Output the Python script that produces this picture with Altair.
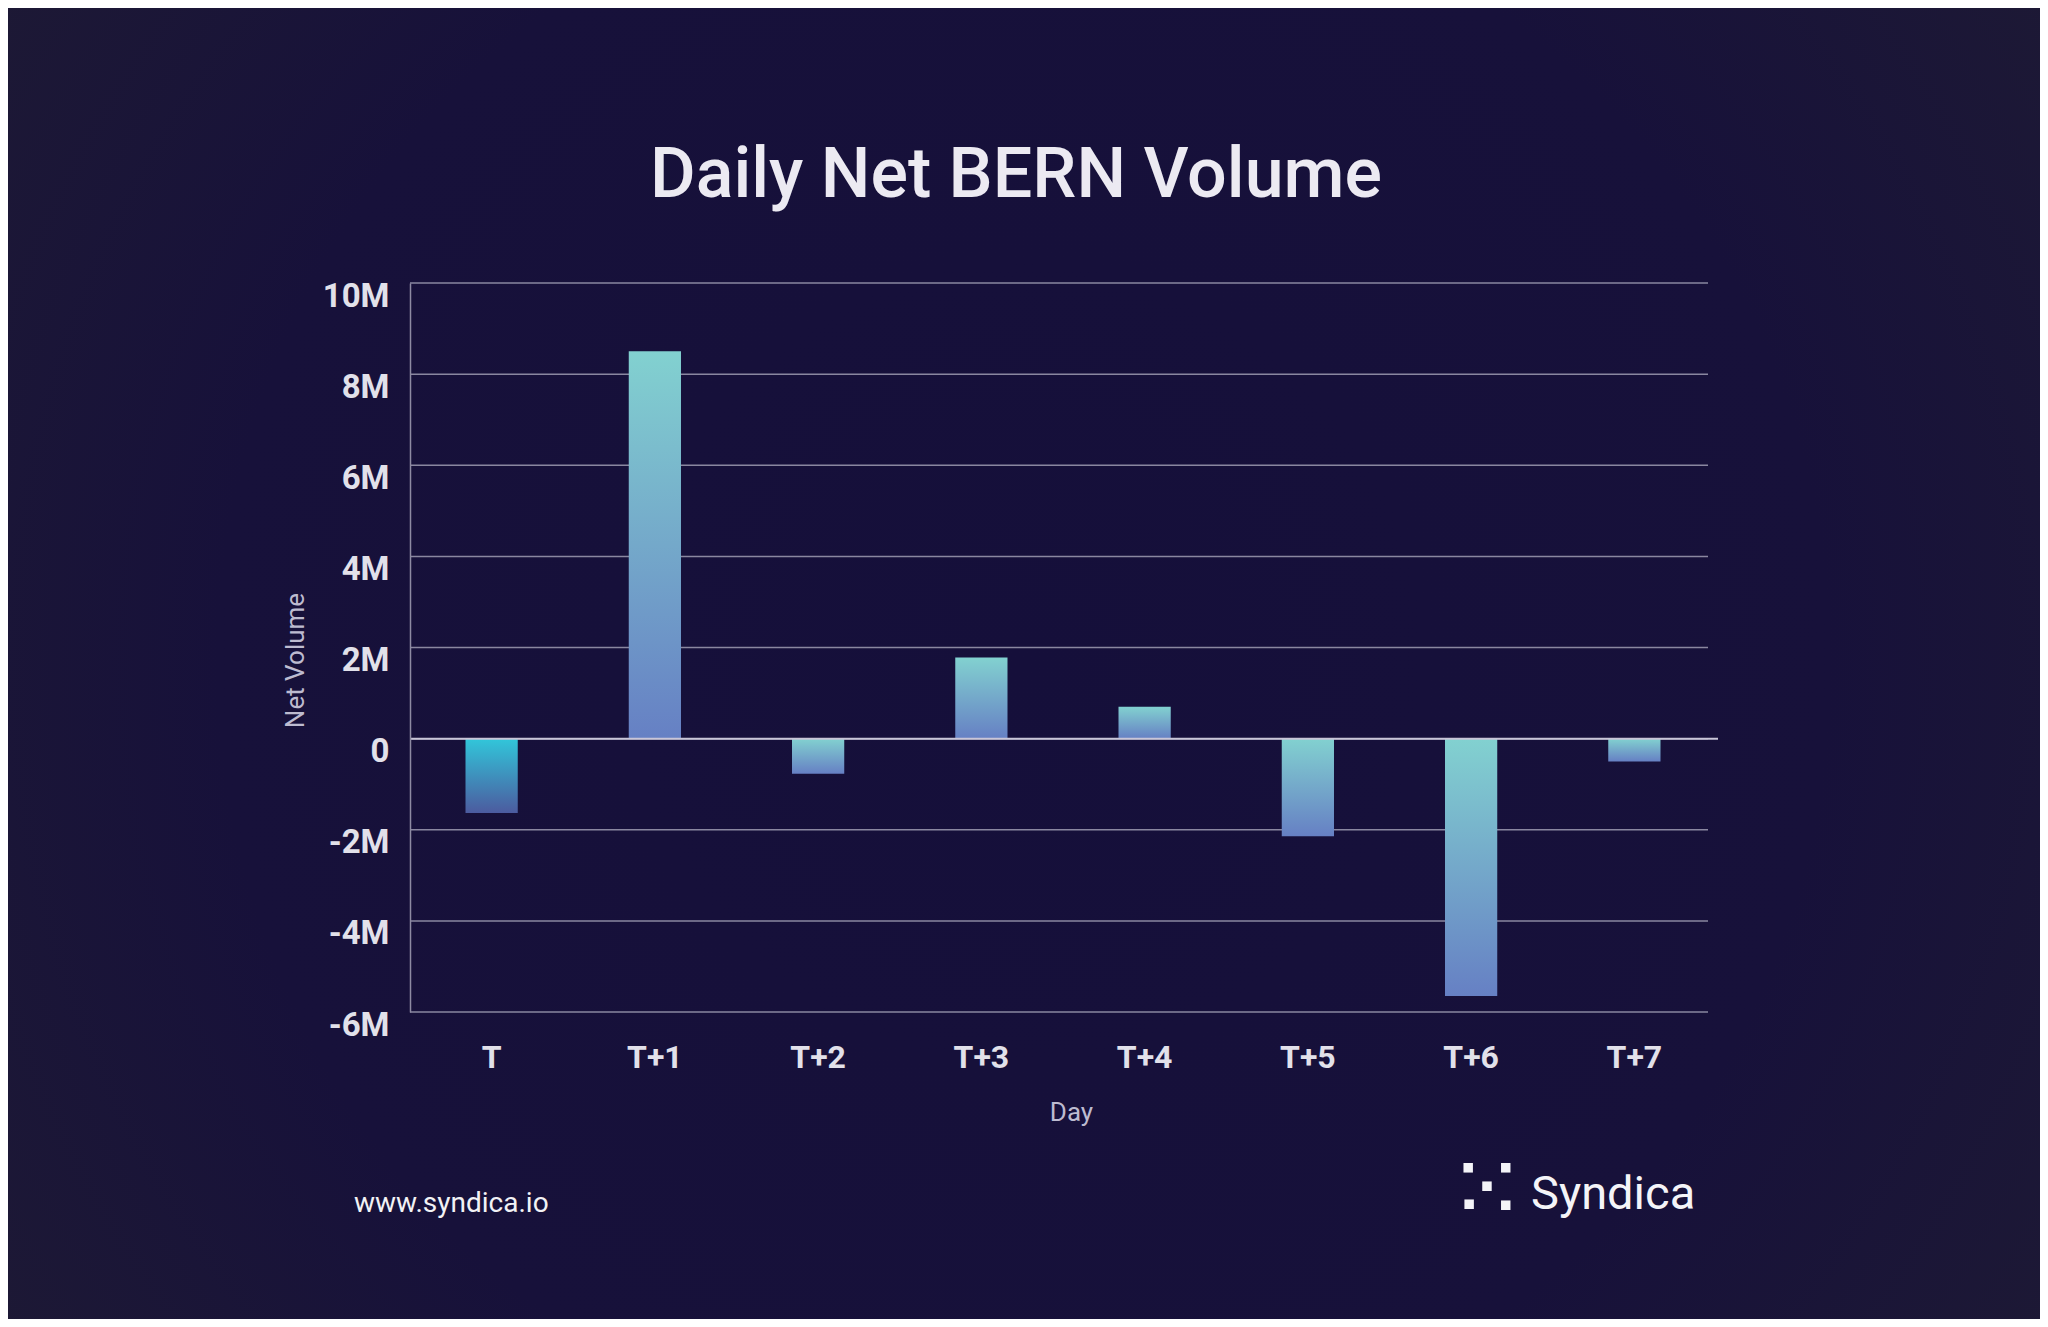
import altair as alt
import pandas as pd

# ---- data ----
days = ["T", "T+1", "T+2", "T+3", "T+4", "T+5", "T+6", "T+7"]
net_volume = [-1630000, 8500000, -770000, 1780000, 700000, -2140000, -5650000, -500000]
y_ticks = [-6000000, -4000000, -2000000, 0, 2000000, 4000000, 6000000, 8000000, 10000000]

title_text = "Daily Net BERN Volume"
site_text = "www.syndica.io"
brand_text = "Syndica"

df = pd.DataFrame({"Day": days, "Net Volume": net_volume})
grid_df = pd.DataFrame({"Net Volume": y_ticks})

FONT = "Roboto"
W, H = 1306, 729
PAD = {"left": 402, "top": 275, "right": 324, "bottom": 307}

x_enc = alt.X(
    "Day:N",
    sort=days,
    scale=alt.Scale(paddingInner=0.68, paddingOuter=0.34),
    axis=alt.Axis(
        title="Day",
        labelAngle=0,
        labelFontSize=32,
        labelFontWeight="bold",
        labelColor="#E2E1EA",
        labelFont=FONT,
        labelPadding=30,
        domain=False,
        ticks=False,
        grid=False,
        zindex=2,
        titleFont=FONT,
        titleFontSize=26,
        titleFontWeight="normal",
        titleColor="#BDBBD0",
        titleX=661,
        titleY=100,
        titleBaseline="middle",
        titleAlign="center",
    ),
)

y_scale = alt.Scale(domain=[-6000000, 10000000], nice=False)

y_enc = alt.Y(
    "Net Volume:Q",
    scale=y_scale,
    axis=alt.Axis(
        title="Net Volume",
        values=y_ticks,
        labelExpr="datum.value == 0 ? '0' : (datum.value < 0 ? '-' : '') + (abs(datum.value) / 1000000) + 'M'",
        labelFontSize=33,
        labelFontWeight="bold",
        labelColor="#E2E1EA",
        labelFont=FONT,
        labelPadding=21,
        labelBaseline="top",
        labelOffset=-3,
        ticks=False,
        domain=True,
        domainColor="#8E8BA3",
        domainWidth=1.5,
        grid=False,
        zindex=2,
        titleFont=FONT,
        titleFontSize=26,
        titleFontWeight="normal",
        titleColor="#BDBBD0",
        titleAngle=270,
        titleX=-115,
        titleY=377,
        titleBaseline="middle",
        titleAlign="center",
    ),
)

bar_grad = alt.LinearGradient(
    gradient="linear",
    stops=[alt.GradientStop(color="#82D1D0", offset=0), alt.GradientStop(color="#6680C4", offset=1)],
    x1=0, y1=0, x2=0, y2=1,
)
first_grad = alt.LinearGradient(
    gradient="linear",
    stops=[alt.GradientStop(color="#31C6DA", offset=0), alt.GradientStop(color="#4C5B9F", offset=1)],
    x1=0, y1=0, x2=0, y2=1,
)

bg_grad = alt.RadialGradient(
    gradient="radial",
    stops=[
        alt.GradientStop(color="#150F3A", offset=0),
        alt.GradientStop(color="#17113A", offset=0.55),
        alt.GradientStop(color="#201D32", offset=1),
    ],
    x1=0.5, y1=0.5, r1=0, x2=0.5, y2=0.5, r2=0.72,
)

one = pd.DataFrame({"k": [0]})

background = alt.Chart(one).mark_rect(fill=bg_grad).encode(
    x=alt.value(-PAD["left"]),
    x2=alt.value(W + PAD["right"]),
    y=alt.value(-PAD["top"]),
    y2=alt.value(H + PAD["bottom"]),
)

grid = alt.Chart(grid_df).mark_rule(color="#8A87A0", strokeWidth=1.5).encode(
    y=y_enc,
    x=alt.value(0),
    x2=alt.value(W - 8),
)

bars = alt.Chart(df).mark_bar(fill=bar_grad).encode(x=x_enc, y=y_enc).transform_filter(
    alt.datum.Day != days[0]
)
bar_first = alt.Chart(df).mark_bar(fill=first_grad).encode(x=x_enc, y=y_enc).transform_filter(
    alt.datum.Day == days[0]
)

zero_rule = alt.Chart(pd.DataFrame({"Net Volume": [0]})).mark_rule(color="#C9C6D8", strokeWidth=2).encode(
    y=y_enc,
    x=alt.value(0),
    x2=alt.value(W + 2),
)

title = alt.Chart(pd.DataFrame({"t": [title_text]})).mark_text(
    font=FONT, fontSize=70, fontWeight=500, color="#ECEAF2", align="center", baseline="alphabetic"
).encode(text="t:N", x=alt.value(606), y=alt.value(-86))

site = alt.Chart(pd.DataFrame({"t": [site_text]})).mark_text(
    font=FONT, fontSize=28, color="#F2F2F5", align="left", baseline="middle"
).encode(text="t:N", x=alt.value(-56), y=alt.value(921))

brand = alt.Chart(pd.DataFrame({"t": [brand_text]})).mark_text(
    font=FONT, fontSize=47, color="#F4F4F8", align="left", baseline="middle"
).encode(text="t:N", x=alt.value(1121), y=alt.value(912))

brand_icon = alt.Chart(pd.DataFrame({"t": ["⁙"]})).mark_text(
    font="DejaVu Sans", fontSize=96, color="#F4F4F8", align="center", baseline="middle"
).encode(text="t:N", x=alt.value(1077), y=alt.value(910))

chart = alt.layer(
    background, grid, bars, bar_first, zero_rule, title, site, brand, brand_icon
).properties(
    width=W,
    height=H,
    padding=PAD,
    autosize=alt.AutoSizeParams(type="none"),
    background="#1F1C33",
).configure_view(stroke=None).configure_axis(labelFont=FONT, titleFont=FONT)

chart.save("out.html", embed_options={"renderer": "svg", "actions": False})
